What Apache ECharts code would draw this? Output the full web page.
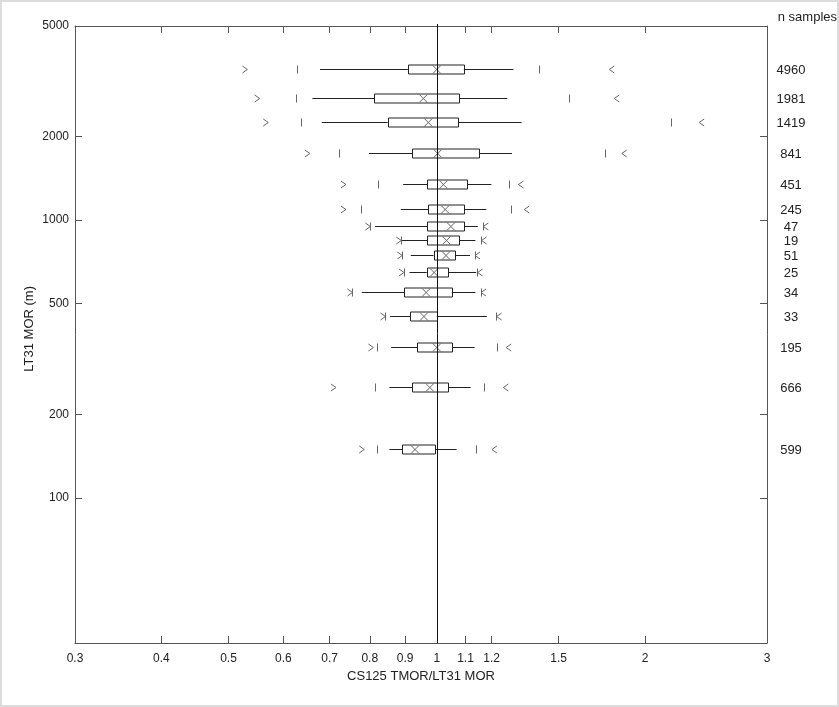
<!DOCTYPE html>
<html><head><meta charset="utf-8">
<script src="https://cdn.jsdelivr.net/npm/echarts@6/dist/echarts.min.js"></script>
<style>
html,body{margin:0;padding:0;background:#fff}
#wrap{position:relative;width:839px;height:707px}
#c{width:839px;height:707px}
#frame{position:absolute;left:0;top:0;width:839px;height:707px;box-sizing:border-box;border:2px solid #dcdcdc;pointer-events:none}
</style>
</head><body>
<div id="wrap"><div id="c"></div><div id="frame"></div></div>
<script>
// MOR bin centres (m)
const morBins = [3500, 2750, 2250, 1750, 1350, 1100, 950, 850, 750, 650, 550, 450, 350, 250, 150];
const nSamples = [4960, 1981, 1419, 841, 451, 245, 47, 19, 51, 25, 34, 33, 195, 666, 599];
// ratio statistics per bin
const pMin     = [0.528, 0.550, 0.566, 0.650, 0.733, 0.733, 0.795, 0.881, 0.884, 0.889, 0.749, 0.836, 0.803, 0.709, 0.779];
const pLow     = [0.628, 0.626, 0.637, 0.723, 0.823, 0.776, 0.800, 0.888, 0.891, 0.896, 0.755, 0.842, 0.820, 0.814, 0.820];
const whiskLow = [0.678, 0.661, 0.682, 0.798, 0.894, 0.887, 0.814, 0.888, 0.917, 0.913, 0.779, 0.856, 0.859, 0.854, 0.854];
const q1       = [0.908, 0.812, 0.849, 0.922, 0.969, 0.972, 0.969, 0.969, 0.989, 0.967, 0.897, 0.915, 0.937, 0.922, 0.892];
const centre   = [1.000, 0.956, 0.972, 1.003, 1.022, 1.028, 1.048, 1.033, 1.031, 0.991, 0.965, 0.958, 1.000, 0.977, 0.930];
const q3       = [1.094, 1.078, 1.073, 1.151, 1.108, 1.095, 1.095, 1.078, 1.062, 1.038, 1.051, 1.000, 1.052, 1.038, 0.994];
const whiskHigh= [1.290, 1.264, 1.326, 1.284, 1.199, 1.179, 1.146, 1.137, 1.117, 1.140, 1.137, 1.181, 1.134, 1.119, 1.068];
const pHigh    = [1.405, 1.551, 2.177, 1.750, 1.270, 1.279, 1.167, 1.159, 1.134, 1.143, 1.157, 1.218, 1.221, 1.170, 1.138];
const pMax     = [1.790, 1.820, 2.414, 1.866, 1.323, 1.349, 1.177, 1.170, 1.145, 1.155, 1.168, 1.230, 1.270, 1.258, 1.211];

const xTicks = [0.3, 0.4, 0.5, 0.6, 0.7, 0.8, 0.9, 1, 1.1, 1.2, 1.5, 2, 3];
const yTicks = [100, 200, 500, 1000, 2000, 5000];
const refRatio = 1;

const FONT = 'Liberation Sans, Arial, sans-serif';
const AX = '#555';
const INK = '#222';
const MARK = '#666';

const data = morBins.map((m, i) => [m, pMin[i], pLow[i], whiskLow[i], q1[i], centre[i], q3[i], whiskHigh[i], pHigh[i], pMax[i], nSamples[i]]);

function h(x){ return Math.round(x) + 0.5; }

function renderBox(params, api) {
  const yv = api.value(0);
  const P = k => api.coord([api.value(k), yv]);
  const y = h(P(1)[1]);
  const xs = [1,2,3,4,5,6,7,8,9].map(k => P(k)[0]);
  const [xMin, xLo, wL, b1, xc, b3, wH, xHi, xMax] = xs;
  const bh = 4.5, mh = 3.5, mw = 2.5, th = 4;
  const lineS = {stroke: INK, lineWidth: 1, fill: null};
  const markS = {stroke: MARK, lineWidth: 1, fill: null};
  const children = [
    {type: 'line', shape: {x1: wL, y1: y, x2: b1, y2: y}, style: lineS},
    {type: 'line', shape: {x1: b3, y1: y, x2: wH, y2: y}, style: lineS},
    {type: 'rect', shape: {x: h(b1), y: Math.round(y - bh), width: Math.round(b3 - b1), height: 9}, style: {stroke: INK, lineWidth: 1, fill: null}},
    {type: 'line', shape: {x1: xc - 4, y1: y - bh + 0.5, x2: xc + 4, y2: y + bh - 0.5}, style: markS},
    {type: 'line', shape: {x1: xc - 4, y1: y + bh - 0.5, x2: xc + 4, y2: y - bh + 0.5}, style: markS},
    {type: 'line', shape: {x1: h(xLo), y1: y - th, x2: h(xLo), y2: y + th}, style: markS},
    {type: 'line', shape: {x1: h(xHi), y1: y - th, x2: h(xHi), y2: y + th}, style: markS},
    {type: 'polyline', shape: {points: [[xMin - mw, y - mh], [xMin + mw, y], [xMin - mw, y + mh]]}, style: markS},
    {type: 'polyline', shape: {points: [[xMax + mw, y - mh], [xMax - mw, y], [xMax + mw, y + mh]]}, style: markS}
  ];
  const right = api.coord([xTicks[xTicks.length - 1], yv])[0];
  children.push({type: 'text', style: {x: right + 24, y: y + 1, text: String(api.value(10)), align: 'center', verticalAlign: 'middle', fill: INK, font: '13px ' + FONT}});
  return {type: 'group', children};
}

function renderRef(params, api) {
  const top = api.coord([api.value(0), yTicks[yTicks.length - 1]]);
  const bot = api.coord([api.value(0), 30]);
  const x = h(top[0]);
  return {type: 'line', shape: {x1: x, y1: top[1] - 2, x2: x, y2: bot[1]}, style: {stroke: '#111', lineWidth: 1}};
}

const tickStyle = {color: AX, width: 1};
const xBase = {type: 'log', logBase: 10, min: 0.3, max: 3, splitLine: {show: false},
  axisLine: {show: true, lineStyle: {color: AX, width: 1}},
  axisTick: {show: true, inside: true, length: 7, customValues: xTicks, lineStyle: tickStyle}};
const yBase = {type: 'log', logBase: 10, min: 30, max: 5000, splitLine: {show: false},
  axisLine: {show: true, lineStyle: {color: AX, width: 1}},
  axisTick: {show: true, inside: true, length: 7, customValues: yTicks, lineStyle: tickStyle}};

const chart = echarts.init(document.getElementById('c'), null, {renderer: 'canvas'});
chart.setOption({
  animation: false,
  backgroundColor: '#fff',
  textStyle: {fontFamily: FONT},
  grid: {left: 75, right: 72, top: 26, bottom: 64},
  xAxis: [
    Object.assign({}, xBase, {position: 'bottom',
      axisLabel: {show: true, customValues: xTicks, formatter: v => String(+(+v).toPrecision(3)), margin: 10, fontSize: 12, color: INK, fontFamily: FONT},
      name: 'CS125 TMOR/LT31 MOR', nameLocation: 'middle', nameGap: 27,
      nameTextStyle: {fontSize: 13, color: INK, fontFamily: FONT}}),
    Object.assign({}, xBase, {position: 'top', axisLabel: {show: false}})
  ],
  yAxis: [
    Object.assign({}, yBase, {position: 'left',
      axisLabel: {show: true, customValues: yTicks, formatter: v => String(Math.round(v)), margin: 6, fontSize: 12, color: INK, fontFamily: FONT}}),
    Object.assign({}, yBase, {position: 'right', axisLabel: {show: false}})
  ],
  graphic: [
    {type: 'text', left: 23, top: 286, rotation: Math.PI / 2, style: {text: 'LT31 MOR (m)', fill: INK, font: '13px ' + FONT}},
    {type: 'text', right: 2, top: 11, style: {text: 'n samples', fill: INK, font: '13px ' + FONT}}
  ],
  series: [
    {type: 'custom', xAxisIndex: 0, yAxisIndex: 0, clip: false, data: [[refRatio]], renderItem: renderRef,
      encode: {x: 0}, z: 3},
    {type: 'custom', xAxisIndex: 0, yAxisIndex: 0, clip: false, data: data, renderItem: renderBox,
      encode: {x: [1, 2, 3, 4, 5, 6, 7, 8, 9], y: 0}, z: 2}
  ]
});
</script>
</body></html>
